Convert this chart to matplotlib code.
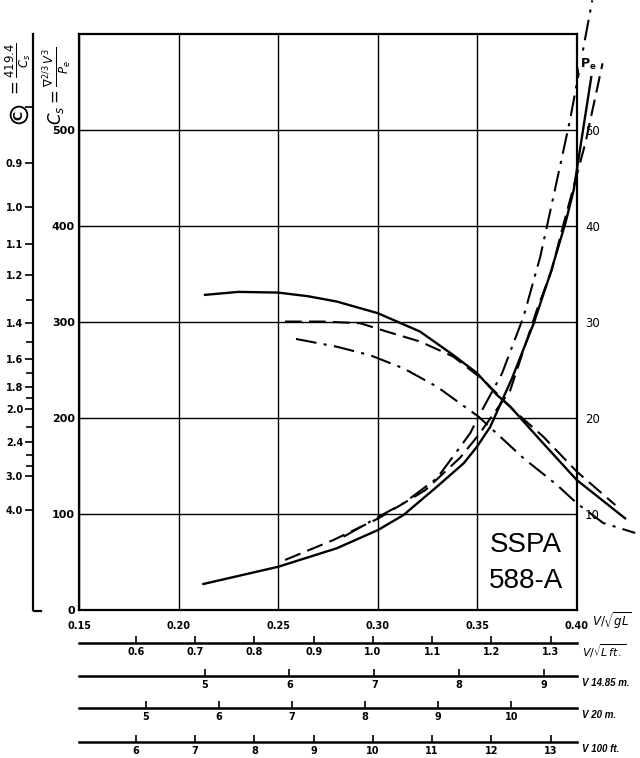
import numpy as np
import matplotlib
matplotlib.use("Agg")
import matplotlib.pyplot as plt
from matplotlib.lines import Line2D

# ---------------- data ----------------
# Cs curves (left axis) vs V/sqrt(gL)
fn_cs_solid = [0.2133, 0.2300, 0.2500, 0.2650, 0.2794, 0.3000, 0.3213, 0.3379, 0.3498,
               0.3599, 0.3666, 0.3816, 0.4000, 0.4243]
cs_solid = [328.4, 331.5, 330.8, 327.0, 321.5, 309.4, 290.2, 265.9, 247.2,
            224.3, 212.1, 177.4, 135.7, 95.8]

fn_cs_dash = [0.2535, 0.2728, 0.2912, 0.3046, 0.3213, 0.3380, 0.3530, 0.3681, 0.3832,
              0.4001, 0.4194]
cs_dash = [300.6, 300.6, 298.9, 290.2, 279.8, 264.2, 240.0, 208.6, 180.8,
           144.3, 109.6]

fn_cs_dashdot = [0.2590, 0.2795, 0.2962, 0.3130, 0.3298, 0.3507, 0.3733, 0.3901,
                 0.4001, 0.4133, 0.4294]
cs_dashdot = [282.5, 274.4, 265.6, 251.9, 232.8, 201.6, 158.3, 130.5,
              111.4, 90.9, 80.5]

# Pe curves (right axis) vs V/sqrt(gL)
fn_pe_solid = [0.2125, 0.2502, 0.2795, 0.3002, 0.3130, 0.3298, 0.3432, 0.3499, 0.3566,
               0.3675, 0.3784, 0.3868, 0.3943, 0.3985, 0.4073]
pe_solid = [2.74, 4.54, 6.46, 8.36, 9.92, 12.87, 15.30, 17.03, 19.11,
            24.15, 29.88, 35.09, 40.29, 43.76, 55.5]

fn_pe_dash = [0.2535, 0.2778, 0.3005, 0.3239, 0.3415, 0.3507, 0.3666, 0.3800, 0.3875,
              0.3926, 0.4043, 0.4130]
pe_dash = [5.24, 7.32, 9.58, 12.5, 15.9, 18.25, 22.9, 31.27, 35.43,
           39.6, 48.6, 56.95]

fn_pe_dashdot = [0.2829, 0.3005, 0.3130, 0.3298, 0.3465, 0.3507, 0.3625, 0.3733, 0.3817,
                 0.3883, 0.3967, 0.4078]
pe_dashdot = [7.66, 9.74, 11.14, 13.74, 18.43, 20.16, 24.67, 30.57, 36.81,
              43.06, 51.1, 63.5]

# axes ticks
x_ticks = [0.15, 0.20, 0.25, 0.30, 0.35, 0.40]
x_tick_labels = ["0.15", "0.20", "0.25", "0.30", "0.35", "0.40"]
cs_ticks = [0, 100, 200, 300, 400, 500]
pe_ticks = [10, 20, 30, 40, 50]

# circled-C scale (C = K / Cs)
c_const = 419.4
c_major = [0.8, 0.9, 1.0, 1.1, 1.2, 1.4, 1.6, 1.8, 2.0, 2.4, 3.0, 4.0]
c_major_labels = ["", "0.9", "1.0", "1.1", "1.2", "1.4", "1.6", "1.8", "2.0", "2.4", "3.0", "4.0"]
c_minor = [1.3, 1.5, 1.7, 1.9, 2.2, 2.6, 2.8]

# auxiliary speed scales below the chart
vsl_vals = [0.6, 0.7, 0.8, 0.9, 1.0, 1.1, 1.2, 1.3]          # V/sqrt(L ft)
vsl_labels = ["0.6", "0.7", "0.8", "0.9", "1.0", "1.1", "1.2", "1.3"]
v1485_vals = [5, 6, 7, 8, 9]                                   # knots, L = 14.85 m
v20_vals = [5, 6, 7, 8, 9, 10]                                 # knots, L = 20 m
v100_vals = [6, 7, 8, 9, 10, 11, 12, 13]                       # knots, L = 100 ft

# ---------------- figure ----------------
W, H = 640, 758
fig = plt.figure(figsize=(W / 100, H / 100), dpi=100)


def fx(px):
    return px / W


def fy(py):
    return 1 - py / H


ax_l, ax_r, ax_t, ax_b = 79, 576.7, 34, 610.3
ax = fig.add_axes([fx(ax_l), fy(ax_b), fx(ax_r) - fx(ax_l), fy(ax_t) - fy(ax_b)])
ax.set_xlim(0.15, 0.40)
ax.set_ylim(0, 600)
for s in ax.spines.values():
    s.set_linewidth(1.6)
ax.set_xticks(x_ticks)
ax.set_xticklabels(x_tick_labels, fontsize=7, fontweight="bold")
ax.set_yticks(cs_ticks)
ax.set_yticklabels([str(v) for v in cs_ticks], fontsize=8, fontweight="bold")
ax.tick_params(axis="both", length=0)
ax.tick_params(axis="x", pad=8)
ax.tick_params(axis="y", pad=3)
ax.grid(True, color="black", linewidth=1.0)
ax.set_axisbelow(True)

dash = (0, (8, 3.5))
dashdot = (0, (10, 3.5, 1.5, 3.5))
lw = 1.5

ax.plot(fn_cs_solid, cs_solid, color="black", lw=1.7, clip_on=False, zorder=3)
ax.plot(fn_cs_dash, cs_dash, color="black", lw=lw, ls=dash, clip_on=False, zorder=3)
ax.plot(fn_cs_dashdot, cs_dashdot, color="black", lw=lw, ls=dashdot, clip_on=False, zorder=3)

# right axis: Pe
axp = ax.twinx()
axp.set_ylim(0, 60)
axp.set_yticks(pe_ticks)
axp.set_yticklabels([str(v) for v in pe_ticks], fontsize=8.5)
axp.tick_params(axis="y", length=0, pad=6)
for s in axp.spines.values():
    s.set_visible(False)
axp.plot(fn_pe_solid, pe_solid, color="black", lw=1.7, clip_on=False, zorder=3)
axp.plot(fn_pe_dash, pe_dash, color="black", lw=lw, ls=dash, clip_on=False, zorder=3)
axp.plot(fn_pe_dashdot, pe_dashdot, color="black", lw=lw, ls=dashdot, clip_on=False, zorder=3)
axp.text(0.4058, 56.8, r"$\mathbf{P_e}$", fontsize=9, ha="center", va="center",
         bbox=dict(boxstyle="square,pad=0.05", fc="white", ec="none"), zorder=4)

# outer circled-C scale
axc = ax.twinx()
axc.set_ylim(0, 600)
for k in ["top", "bottom", "right"]:
    axc.spines[k].set_visible(False)
axc.spines["left"].set_visible(True)
axc.spines["left"].set_position(("outward", 32.8))
axc.spines["left"].set_linewidth(1.6)
axc.yaxis.set_ticks_position("left")
axc.yaxis.set_label_position("left")
axc.set_yticks([c_const / c for c in c_major])
axc.set_yticklabels(c_major_labels, fontsize=7, fontweight="bold")
axc.set_yticks([c_const / c for c in c_minor], minor=True)
axc.tick_params(axis="y", which="major", length=6, width=1.2, pad=1.5)
axc.tick_params(axis="y", which="minor", length=5, width=1.2)
fig.add_artist(Line2D([fx(33.5), fx(41)], [fy(611), fy(611)], color="black", lw=1.6,
                      transform=fig.transFigure))

# rotated formula labels at top-left
fig.text(fx(19), fy(115), "C", rotation=90, fontsize=9, fontweight="bold",
         ha="center", va="center",
         bbox=dict(boxstyle="circle,pad=0.15", fc="white", ec="black", lw=1.3))
fig.text(fx(18), fy(70), r"$=\frac{419.4}{C_s}$", rotation=90, fontsize=12,
         ha="center", va="center")
fig.text(fx(57), fy(86), r"$C_s=\frac{\nabla^{2/3}\,V^3}{P_e}$", rotation=90, fontsize=12,
         ha="center", va="center")

# x-axis name
fig.text(fx(592), fy(621), r"$V/\sqrt{gL}$", fontsize=8.5,
         ha="left", va="center")

# SSPA label
ax.text(0.3745, 68, "SSPA", fontsize=20, family="Liberation Sans", ha="center", va="center")
ax.text(0.3745, 30, "588-A", fontsize=20, family="Liberation Sans", ha="center", va="center")


# auxiliary scales
def aux_scale(py, positions, labels, name, math=False):
    a = fig.add_axes([fx(ax_l), fy(py), fx(ax_r) - fx(ax_l), 0.0001])
    a.set_xlim(0.15, 0.40)
    a.set_yticks([])
    for k in ["top", "left", "right"]:
        a.spines[k].set_visible(False)
    a.spines["bottom"].set_linewidth(1.8)
    a.patch.set_visible(False)
    a.set_xticks(positions)
    a.set_xticklabels(labels, fontsize=7, fontweight="bold")
    a.tick_params(axis="x", direction="in", length=5, width=1.2, pad=3)
    if math:
        fig.text(fx(582), fy(py + 8), name, fontsize=8, ha="left", va="center")
    else:
        fig.text(fx(582), fy(py + 7), name, fontsize=7, fontweight="bold", style="italic",
                 family="Liberation Sans", ha="left", va="center")


g = 9.81
kn = 0.5144
aux_scale(643, [v / 3.36 for v in vsl_vals], vsl_labels, r"$V/\sqrt{L\,ft.}$", math=True)
aux_scale(676, [v * kn / np.sqrt(g * 14.85) for v in v1485_vals],
          [str(v) for v in v1485_vals], "V 14.85 m.")
aux_scale(708, [v * kn / np.sqrt(g * 20.0) for v in v20_vals],
          [str(v) for v in v20_vals], "V 20 m.")
aux_scale(742, [v / 10 / 3.36 for v in v100_vals],
          [str(v) for v in v100_vals], "V 100 ft.")

fig.savefig("out.png", dpi=100)
